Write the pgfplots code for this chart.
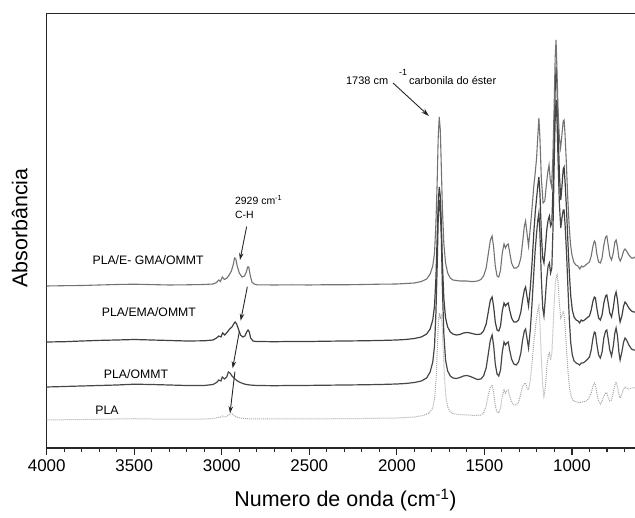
\documentclass[border=0pt]{standalone}
\usepackage{pgfplots}
\pgfplotsset{compat=1.18}
\usepackage{fontspec}
\setmainfont{Liberation Sans}
\usetikzlibrary{arrows.meta}

% FTIR spectra, stacked with vertical offsets (absorbance in arbitrary units)
\pgfplotstableread{
wn y
4000 162
3900 162.3
3800 162.5
3700 163
3600 163.5
3500 163.8
3400 163.4
3300 163
3200 163.2
3100 163.5
3050 164
3030 165.5
3017 168
3008 166.5
2997 171
2985 168.5
2970 170
2958 173
2945 177
2935 183
2927 190
2920 189
2912 182
2900 175
2885 171
2870 172
2860 176
2852 181
2846 181
2838 173
2828 166
2815 164
2800 163.2
2700 163
2600 163.2
2500 163
2400 163.3
2300 163.2
2200 163.5
2100 163.8
2000 164
1950 164.5
1900 165
1860 166.5
1830 169
1810 174
1795 182
1785 195
1777 225
1770 265
1764 310
1758 331
1752 318
1746 280
1740 240
1732 205
1722 185
1710 175
1695 170
1680 168
1660 167.5
1640 167
1620 167
1600 167
1580 166.5
1560 166.5
1540 167
1520 168.5
1505 172
1490 180
1478 194
1466 208
1456 212
1447 200
1438 182
1428 172
1418 171
1408 178
1398 195
1388 204
1380 200
1372 203
1364 204
1356 196
1345 185
1332 180
1318 180
1305 182
1292 190
1282 205
1272 222
1265 227
1257 215
1248 202
1238 220
1228 240
1218 262
1210 275
1202 290
1195 312
1189 330
1183 310
1175 270
1165 245
1155 247
1147 262
1138 276
1131 283
1124 268
1117 262
1110 285
1102 340
1096 390
1091 408
1086 380
1080 340
1072 310
1065 300
1058 312
1050 327
1045 328
1040 315
1032 285
1024 250
1016 222
1008 203
1000 193
990 186
978 183
966 182
955 179
946 182
938 181
928 182
915 184
900 186
890 192
880 202
872 207
866 205
858 194
848 186
838 185
828 190
818 203
808 211
801 212
794 204
784 192
774 188
764 195
755 206
748 208
740 201
732 190
724 187
715 191
705 197
697 199
688 197
675 193
660 190
648 190
640 191
}\gma

\pgfplotstableread{
wn y
4000 106
3900 106.3
3800 107
3700 107.6
3600 108
3500 108.5
3400 108
3300 107.5
3200 107
3100 107.2
3050 108
3030 110
3017 112
3005 111
2995 115
2983 113
2968 116
2955 119
2942 121
2932 124
2924 126
2915 124
2905 119
2893 113
2880 111
2868 112
2858 116
2850 118
2843 116
2835 110
2822 107
2805 106.5
2700 106.3
2600 106.5
2500 106.5
2400 106.8
2300 107
2200 107.2
2100 107.5
2000 108
1950 108.5
1900 109.5
1860 111
1830 114
1810 119
1795 128
1785 142
1777 170
1770 210
1764 245
1758 261
1752 252
1746 225
1740 185
1732 150
1722 130
1710 121
1695 116
1680 114
1660 113
1640 113.5
1620 115
1600 115.5
1580 115
1560 114
1540 113.5
1520 114
1505 117
1490 124
1478 136
1466 148
1456 151
1447 141
1438 126
1428 118
1418 117
1408 122
1398 137
1388 145
1380 142
1372 144
1364 145
1356 138
1345 130
1332 126
1318 126
1305 128
1292 136
1282 148
1272 158
1265 161
1257 152
1248 142
1238 160
1228 185
1218 215
1210 235
1202 250
1195 262
1189 271
1183 255
1175 215
1167 190
1160 185
1152 200
1144 218
1136 228
1129 232
1122 222
1115 225
1108 262
1101 320
1095 365
1090 381
1085 360
1079 320
1072 275
1064 248
1057 262
1050 279
1045 281
1039 265
1031 238
1023 205
1015 175
1007 152
998 138
988 131
976 128
965 127
956 125
947 128
938 127
928 128
915 130
900 132
890 138
880 147
872 151
866 150
858 140
848 130
838 128
828 133
818 145
808 152
801 153
794 146
784 135
774 131
764 140
755 152
748 156
740 148
732 134
725 126
715 132
705 142
697 146
688 144
675 140
660 137
648 136
640 136
}\ema

\pgfplotstableread{
wn y
4000 61
3900 61.5
3800 62
3700 62.5
3600 63
3500 63.8
3400 63.5
3300 63
3200 62.5
3100 62.5
3050 63.5
3030 65.5
3017 68
3005 67
2997 71
2985 69
2972 71
2962 76
2953 75
2942 72
2930 70
2915 67.5
2900 66
2880 64.5
2860 63.5
2840 63
2800 62.5
2700 62.3
2600 62.5
2500 62.6
2400 62.8
2300 63
2200 63.2
2100 63.5
2000 64
1950 64.5
1900 65.5
1860 67
1830 70
1810 76
1795 86
1785 102
1777 135
1770 180
1764 228
1758 248
1752 238
1746 210
1740 160
1732 115
1722 88
1710 77
1695 72
1680 70
1660 69.5
1640 70.5
1620 72
1600 72.5
1580 71.5
1560 70
1540 68.5
1520 69
1505 72
1490 80
1478 94
1466 108
1456 113
1447 102
1438 84
1428 74
1418 72
1408 78
1398 96
1388 106
1380 103
1372 105
1364 106
1356 98
1345 89
1332 84
1318 83
1305 86
1292 95
1282 108
1272 117
1265 119
1257 110
1248 100
1238 118
1228 145
1218 175
1210 198
1202 215
1195 228
1189 235
1183 215
1175 170
1167 140
1160 132
1152 150
1144 170
1136 182
1129 185
1122 175
1115 180
1108 222
1101 290
1095 335
1090 348
1085 325
1079 285
1072 245
1064 220
1057 230
1050 238
1045 238
1039 222
1031 195
1023 160
1015 128
1007 105
998 93
988 87
976 85
965 84
956 83
947 85
938 85
928 86
915 88
900 91
890 98
880 110
872 116
866 115
858 104
848 93
838 90
828 96
818 110
808 117
801 118
794 110
784 98
774 92
764 102
755 115
748 120
740 112
732 96
725 88
715 96
705 106
697 110
688 108
675 103
660 99
648 98
640 98
}\ommt

\pgfplotstableread{
wn y
4000 28
3800 28.5
3600 29
3500 29.3
3400 29
3200 28.8
3100 29
3050 29.5
3020 30.5
3005 31
2997 32
2988 31
2975 31.5
2960 33
2948 35
2940 34
2925 32
2910 30.5
2890 29.8
2860 29.3
2800 29
2600 29
2400 29.2
2200 29.5
2000 30
1900 31
1850 32.5
1815 35
1795 40
1783 52
1775 72
1768 104
1762 129
1757 135
1752 129
1747 132
1742 124
1736 100
1728 70
1720 51
1710 41
1695 36
1680 34.5
1650 33.5
1600 33
1550 32.5
1520 33
1505 35
1490 42
1478 53
1466 61
1456 63
1447 55
1438 42
1428 36
1418 35
1408 40
1398 52
1388 58
1380 55
1372 57
1364 58
1356 52
1345 46
1332 43
1318 43
1305 46
1292 54
1282 62
1272 64
1265 65
1257 60
1248 58
1238 68
1228 85
1218 105
1210 118
1202 130
1195 138
1189 142
1183 125
1175 90
1167 62
1160 52
1152 60
1144 80
1136 92
1129 95
1122 88
1115 95
1108 120
1100 150
1093 168
1085 173
1079 165
1072 145
1064 130
1057 133
1050 136
1045 134
1038 118
1030 95
1022 75
1014 60
1005 52
995 48
985 46.5
970 46
958 45
947 46
935 46
920 47
905 49
890 55
880 62
872 65
866 63
858 55
848 47
838 44
828 47
818 52
808 55
801 55
794 51
784 47
774 48
764 56
755 63
748 66
740 61
732 54
725 50
715 54
705 59
697 61
688 60
675 59
660 60
648 60
640 60
}\pla

\begin{document}
\begin{tikzpicture}
\useasboundingbox (0,0) rectangle (635bp,518bp);
\begin{axis}[
  at={(46.7bp,70bp)}, anchor=south west,
  scale only axis, width=588.3bp, height=434.7bp,
  x dir=reverse, xmin=640, xmax=4000,
  ymin=0, ymax=434.7,
  axis lines*=left,
  axis line style={line width=1.6bp, black!85},
  ytick=\empty,
  xtick={1000,1500,...,4000},
  minor xtick={700,800,...,4000},
  tick align=outside,
  major tick length=7bp, minor tick length=4bp,
  every tick/.style={black!85, line width=1.1bp},
  /pgf/number format/1000 sep={},
  /pgf/number format/assume math mode=true,
  xticklabel style={font=\fontsize{17}{17}\selectfont, yshift=-1bp},
  xlabel={Numero de onda (cm\textsuperscript{-1})},
  ylabel={Absorbância},
  label style={font=\fontsize{21.5}{21.5}\selectfont},
  xlabel style={at={(axis description cs:0.508,-0.1196)}, anchor=center},
  ylabel style={at={(axis description cs:-0.0459,0.506)}, anchor=center},
]
\draw[line width=1.2bp, black!85] (rel axis cs:0,1) -- (rel axis cs:1,1);

\addplot[no marks, line width=1bp, black!35, densely dotted] table[x=wn,y=y] {\pla};
\addplot[no marks, line width=1.2bp, black!72] table[x=wn,y=y] {\ommt};
\addplot[no marks, line width=1.2bp, black!75] table[x=wn,y=y] {\ema};
\addplot[no marks, line width=1.1bp, black!55] table[x=wn,y=y] {\gma};

% sample names
\node[font=\fontsize{12.3}{12.3}\selectfont] at (axis cs:3421,188) {PLA/E- GMA/OMMT};
\node[font=\fontsize{12.3}{12.3}\selectfont] at (axis cs:3416,136) {PLA/EMA/OMMT};
\node[font=\fontsize{12.3}{12.3}\selectfont] at (axis cs:3490,74) {PLA/OMMT};
\node[font=\fontsize{12.3}{12.3}\selectfont] at (axis cs:3656,38) {PLA};

% band assignments
\node[font=\fontsize{10.5}{10.5}\selectfont, anchor=west, inner sep=0pt] at (axis cs:2925,248) {2929 cm\textsuperscript{-1}};
\node[font=\fontsize{10.5}{10.5}\selectfont, anchor=west, inner sep=0pt] at (axis cs:2925,233) {C-H};
\node[font=\fontsize{11}{11}\selectfont, anchor=west, inner sep=0pt] at (axis cs:2291,371)
  {1738 cm\hspace{11bp}\raisebox{9bp}{\fontsize{9}{9}\selectfont -1}\hspace{2bp}carbonila do éster};

\draw[-{Stealth[length=7bp,width=4.5bp]}, line width=0.9bp, black!85] (axis cs:2858,221.3) -- (axis cs:2896,188);
\draw[-{Stealth[length=7bp,width=4.5bp]}, line width=0.9bp, black!85] (axis cs:2854,161.3) -- (axis cs:2892,127.3);
\draw[-{Stealth[length=7bp,width=4.5bp]}, line width=0.9bp, black!85] (axis cs:2900,116.3) -- (axis cs:2938,79.7);
\draw[-{Stealth[length=7bp,width=4.5bp]}, line width=0.9bp, black!85] (axis cs:2925,76.3) -- (axis cs:2953,34.7);
\draw[-{Stealth[length=8bp,width=5bp]}, line width=0.9bp, black!85] (axis cs:2022,365) -- (axis cs:1817,332);
\end{axis}
\end{tikzpicture}
\end{document}
